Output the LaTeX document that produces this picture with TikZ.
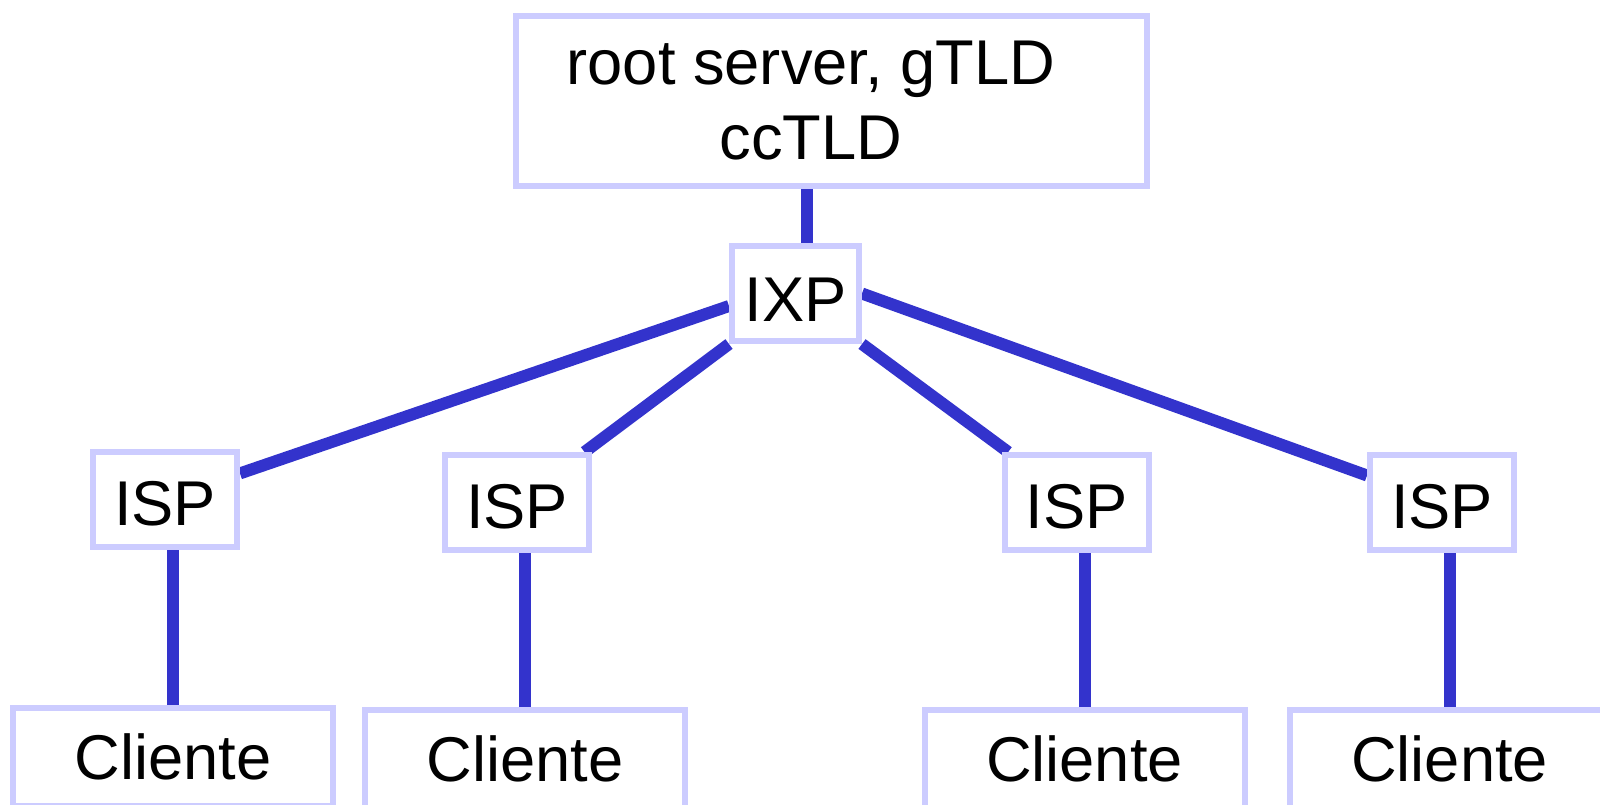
\documentclass[tikz,border=0pt]{standalone}
\usepackage{fontspec}
\setmainfont{Liberation Sans}
\usetikzlibrary{backgrounds}
\definecolor{boxline}{RGB}{204,204,255}
\definecolor{linkblue}{RGB}{51,51,204}

\begin{document}
\begin{tikzpicture}[
  box/.style={draw=boxline, line width=0.6mm, fill=white, inner sep=0pt},
  isp/.style={box, minimum width=1.44cm, minimum height=0.95cm, text height=15pt, text depth=0pt},
  client/.style={box, minimum width=3.20cm, minimum height=0.98cm},
  link/.style={draw=linkblue, line width=1.2mm},
  font=\fontsize{18}{21.4}\selectfont
]
  \useasboundingbox (0,0) rectangle (16,-8.04);
  \node[box, minimum width=6.31cm, minimum height=1.70cm] (root) at (8.315,-1.01) {};
  \node[align=center] (roottext) at (8.11,-1.005) {root server, gTLD\\ccTLD};
  \node[box, minimum width=1.27cm, minimum height=0.95cm, text height=16pt, text depth=0pt] (ixp) at (7.955,-2.935) {IXP};
  \node[isp] (isp1) at (1.65,-4.99) {ISP};
  \node[isp] (isp2) at (5.17,-5.025) {ISP};
  \node[isp] (isp3) at (10.765,-5.025) {ISP};
  \node[isp] (isp4) at (14.42,-5.025) {ISP};
  \node[client] (cli1) at (1.73,-7.57) {Cliente};
  \node[client] (cli2) at (5.25,-7.59) {Cliente};
  \node[client] (cli3) at (10.845,-7.59) {Cliente};
  \node[client] (cli4) at (14.495,-7.59) {Cliente};
  \begin{pgfonlayer}{background}
    \draw[link] ([xshift=1.15mm]ixp.north) -- ([xshift=1.15mm]ixp.north |- root.south);
    \draw[link] ([yshift=-1.25mm]ixp.west) -- (isp1);
    \draw[link] (ixp.south west) -- (isp2);
    \draw[link] (ixp.south east) -- (isp3);
    \draw[link] (ixp.east) -- (isp4);
    \foreach \i in {1,...,4}
      \draw[link] (cli\i.north) -- (cli\i.north |- isp\i.south);
  \end{pgfonlayer}
\end{tikzpicture}
\end{document}
